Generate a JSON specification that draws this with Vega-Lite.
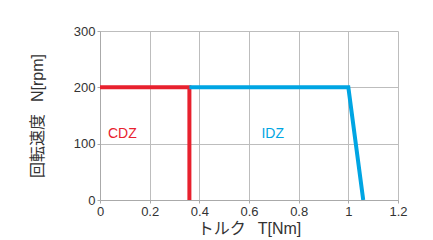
{
  "$schema": "https://vega.github.io/schema/vega-lite/v6.json",
  "width": 298,
  "height": 169,
  "autosize": "none",
  "padding": {"left": 100, "top": 31, "right": 35, "bottom": 40},
  "background": "white",
  "config": {
    "font": "Liberation Sans, Noto Sans CJK JP",
    "view": {"stroke": null},
    "axis": {
      "gridColor": "#bdbdbd",
      "gridWidth": 1,
      "domainColor": "#aaaaaa",
      "tickColor": "#aaaaaa",
      "tickSize": 3,
      "labelColor": "#333333",
      "labelFontSize": 13,
      "titleFont": "Liberation Sans, Noto Sans CJK JP",
      "titleFontSize": 16,
      "titleFontWeight": "normal",
      "titleColor": "#333333"
    }
  },
  "datasets": {
    "lines": [
      {"series": "CDZ", "order": 1, "torque": 0, "speed": 200},
      {"series": "CDZ", "order": 2, "torque": 0.36, "speed": 200},
      {"series": "CDZ", "order": 3, "torque": 0.36, "speed": 0},
      {"series": "IDZ", "order": 1, "torque": 0.36, "speed": 200},
      {"series": "IDZ", "order": 2, "torque": 1.0, "speed": 200},
      {"series": "IDZ", "order": 3, "torque": 1.06, "speed": 0}
    ],
    "labels": [
      {"series": "CDZ", "torque": 0.032, "speed": 117},
      {"series": "IDZ", "torque": 0.65, "speed": 117}
    ]
  },
  "layer": [
    {
      "data": {"name": "lines"},
      "mark": {"type": "line", "strokeWidth": 4, "strokeCap": "butt", "strokeJoin": "miter", "clip": true},
      "encoding": {
        "x": {"field": "torque", "type": "quantitative", "scale": {"domain": [0, 1.2], "nice": false},
          "axis": {"title": "トルク\u2002\u2005T[Nm]", "values": [0, 0.2, 0.4, 0.6, 0.8, 1, 1.2], "format": "~g", "labelPadding": 2, "titlePadding": 2, "labelFlush": false}},
        "y": {"field": "speed", "type": "quantitative", "scale": {"domain": [0, 300], "nice": false},
          "axis": {"title": "回転速度\u2002\u2005N[rpm]", "values": [0, 100, 200, 300], "labelPadding": 2, "titlePadding": 28}},
        "color": {"field": "series", "type": "nominal", "scale": {"domain": ["CDZ", "IDZ"], "range": ["#e8212e", "#00a5e3"]}, "legend": null},
        "order": {"field": "order", "type": "quantitative"}
      }
    },
    {
      "data": {"name": "labels"},
      "mark": {"type": "text", "align": "left", "baseline": "middle", "fontSize": 14},
      "encoding": {
        "x": {"field": "torque", "type": "quantitative"},
        "y": {"field": "speed", "type": "quantitative"},
        "text": {"field": "series"},
        "color": {"field": "series", "type": "nominal", "legend": null}
      }
    }
  ]
}
